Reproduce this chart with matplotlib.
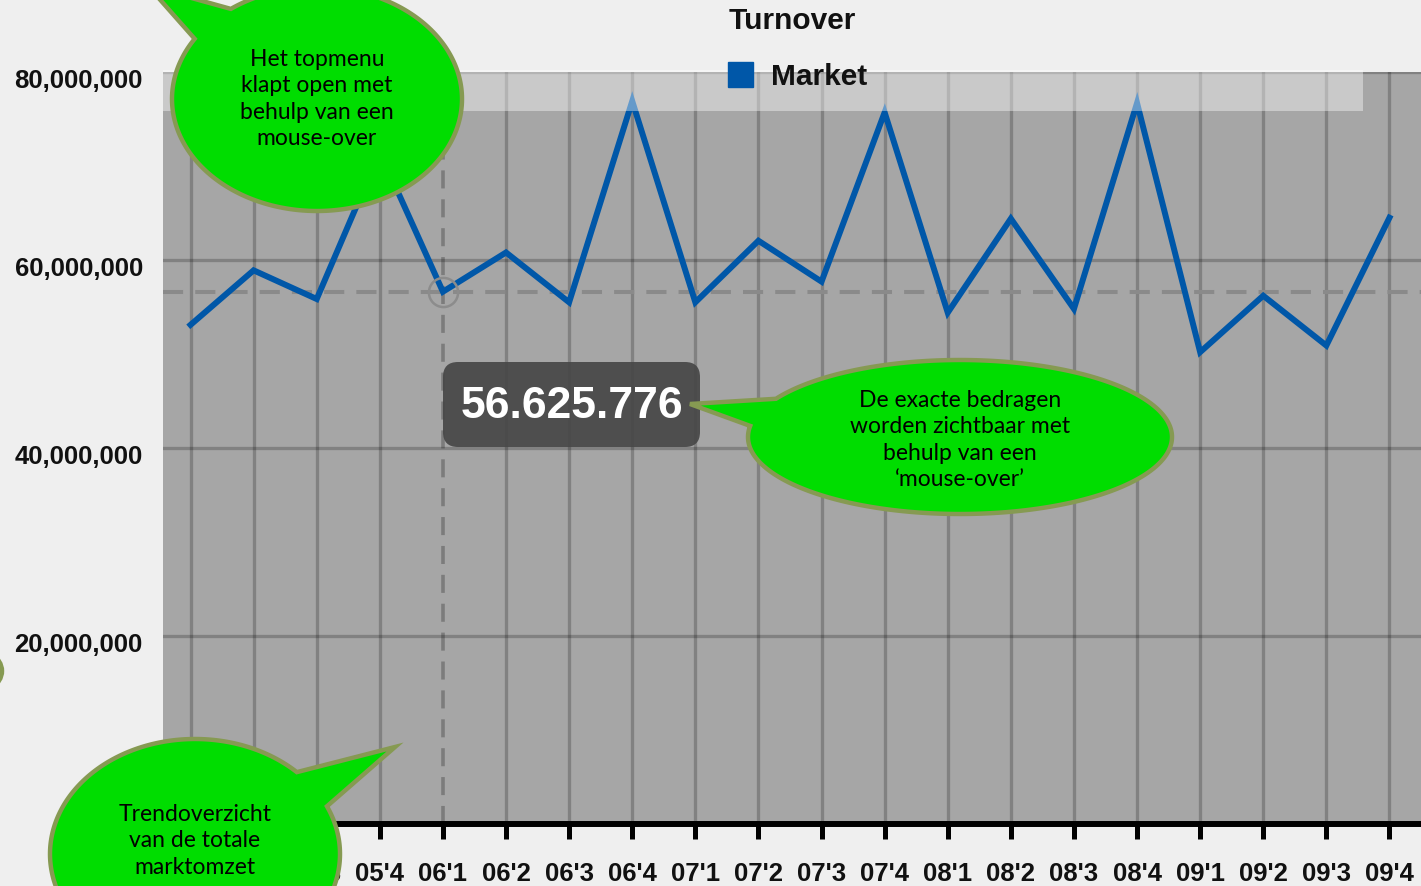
import matplotlib
matplotlib.use("Agg")
import matplotlib.pyplot as plt
import numpy as np
from matplotlib.patches import Polygon, FancyBboxPatch, Rectangle, Ellipse
from matplotlib.lines import Line2D

# ---- data ----
quarters = ["05'1", "05'2", "05'3", "05'4", "06'1", "06'2", "06'3", "06'4",
            "07'1", "07'2", "07'3", "07'4", "08'1", "08'2", "08'3", "08'4",
            "09'1", "09'2", "09'3", "09'4"]
turnover = [53.1e6, 58.9e6, 55.85e6, 71.5e6, 56625776, 60.8e6, 55.5e6, 76.9e6,
            55.5e6, 62.05e6, 57.7e6, 75.7e6, 54.4e6, 64.4e6, 54.8e6, 76.7e6,
            50.2e6, 56.2e6, 50.9e6, 64.5e6]
y_ticks = [20e6, 40e6, 60e6, 80e6]
hover_index = 4
title = "Turnover"
series_name = "Market"
bubble_texts = ["Het topmenu\nklapt open met\nbehulp van een\nmouse-over",
                "De exacte bedragen\nworden zichtbaar met\nbehulp van een\n\u2018mouse-over\u2019",
                "Trendoverzicht\nvan de totale\nmarktomzet"]

W, H = 1421, 887
BG = "#efefef"
PLOT_BG = "#a6a6a6"
LINE_C = "#0057a8"
GREEN = "#00dd00"
OLIVE = "#869a52"
AX_FONT = "Liberation Sans"
BUB_FONT = "Lato"

fig = plt.figure(figsize=(W / 100, H / 100), dpi=100, facecolor=BG)
ax = fig.add_axes([163 / W, (H - 825) / H, (W - 163) / W, (825 - 73) / H])
ax.set_facecolor(PLOT_BG)

x = np.arange(len(quarters))
ax.set_xlim(-0.436, 19.5)
ax.set_ylim(0, 80e6)

# grid
for xi in x:
    if xi == hover_index:
        continue
    ax.axvline(xi, color="#000000", alpha=0.22, lw=2.4, zorder=1)
for yv in y_ticks:
    ax.axhline(yv, color="#000000", alpha=0.22, lw=2.4, zorder=1)

# crosshair
hv = turnover[hover_index]
ax.axhline(hv, color="#8a8a8a", lw=2.9, dashes=(5, 3), zorder=2)
ax.axvline(x[hover_index], color="#000000", alpha=0.25, lw=2.6, dashes=(5, 3), zorder=2)

# series
ax.plot(x, turnover, color=LINE_C, lw=4.3, solid_joinstyle="miter", zorder=3)
ax.plot([x[hover_index]], [hv], marker="o", markersize=21, markerfacecolor="none",
        markeredgecolor="#8c8c8c", markeredgewidth=1.8, zorder=4)

# axes style
for s in ["top", "left", "right"]:
    ax.spines[s].set_visible(False)
ax.spines["bottom"].set_linewidth(4.3)
ax.spines["bottom"].set_color("black")
ax.set_xticks(x)
ax.set_xticklabels(quarters, fontfamily=AX_FONT, fontweight="bold", fontsize=18.5)
ax.tick_params(axis="x", length=11, width=3.6, color="black", pad=15.5, labelcolor="#111111")
# the first two quarter labels lie fully under the annotation bubble
for lab in ax.get_xticklabels()[:2]:
    lab.set_visible(False)
ax.set_yticks([])
for yv in y_ticks:
    ax.annotate(f"{int(yv):,}", xy=(0, yv), xycoords=("axes fraction", "data"),
                xytext=(-14.5, -6), textcoords="offset points", ha="right", va="center",
                fontfamily=AX_FONT, fontweight="bold", fontsize=18.5, color="#111111",
                annotation_clip=False)

# ---- overlay in pixel coordinates ----
ov = fig.add_axes([0, 0, 1, 1], zorder=10)
ov.set_xlim(0, W)
ov.set_ylim(H, 0)
ov.axis("off")
ov.patch.set_alpha(0)

# legend band
ov.add_patch(Rectangle((163, 71), 1363 - 163, 112 - 71, facecolor="white", alpha=0.4,
                       edgecolor="none", zorder=1))
ov.text(792, 21, title, ha="center", va="center", fontfamily=AX_FONT, fontweight="bold",
        fontsize=21.5, color="#111111")
handle = Line2D([], [], marker="s", color=LINE_C, linestyle="none", markersize=18)
leg = fig.legend([handle], [series_name], loc="center left",
                 bbox_to_anchor=(725 / W, 1 - 77 / H), frameon=False, borderpad=0,
                 borderaxespad=0, handlelength=1.0, handletextpad=0.55,
                 prop={"family": AX_FONT, "weight": "bold", "size": 21.5})
leg.set_zorder(20)
for t in leg.get_texts():
    t.set_color("#111111")

# tooltip
ov.add_patch(FancyBboxPatch((443 + 15, 363 + 15), 257 - 30, 85 - 30,
                            boxstyle="round,pad=15", facecolor="#454545", alpha=0.9,
                            edgecolor="none", zorder=3))
ov.text(572, 407, f"{int(hv):,}".replace(",", "."), ha="center", va="center",
        fontfamily=AX_FONT, fontweight="bold", fontsize=32, color="white", zorder=4)


def bubble(cx, cy, rx, ry, tip, p1, p2, text, tx, ty, fs=16.5):
    a1 = np.arctan2((p1[1] - cy) / ry, (p1[0] - cx) / rx)
    a2 = np.arctan2((p2[1] - cy) / ry, (p2[0] - cx) / rx)
    d = (a2 - a1) % (2 * np.pi)
    if d < np.pi:
        d = d - 2 * np.pi
    t = a1 + np.linspace(0, d, 300)
    pts = np.column_stack([cx + rx * np.cos(t), cy + ry * np.sin(t)])
    pts = np.vstack([[tip], pts])
    ov.add_patch(Polygon(pts, closed=True, facecolor=GREEN, edgecolor=OLIVE, lw=3.2,
                         joinstyle="miter", zorder=5))
    ov.text(tx, ty, text, ha="center", va="center", fontfamily=BUB_FONT, fontsize=fs,
            linespacing=1.33, color="black", zorder=6)


bubble(317, 100, 145, 112, (148, -13), (195, 40), (230, 9), bubble_texts[0], 317, 99)
bubble(960, 438, 212, 77, (690, 405), (777, 400), (752, 427), bubble_texts[1], 960, 440)
bubble(195, 855, 145, 115, (395, 748), (297, 773), (325, 808), bubble_texts[2], 195, 841)
ov.add_patch(Ellipse((-150, 672), 304, 100, facecolor=GREEN, edgecolor=OLIVE, lw=3.2, zorder=5))

fig.savefig("out.png", dpi=100, facecolor=BG)
